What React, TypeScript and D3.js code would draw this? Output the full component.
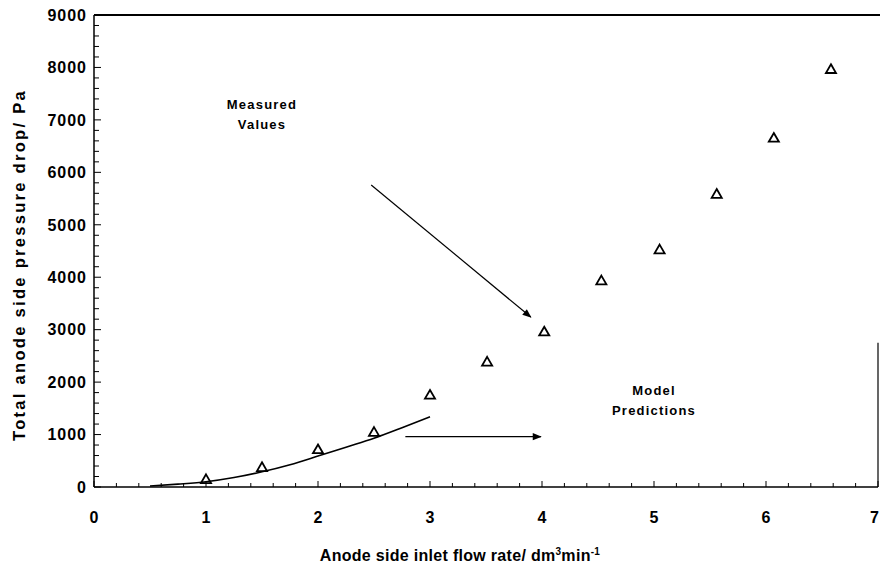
import * as d3 from "d3";

// measured pressure drop (triangles)
const measuredFlow = [1.0, 1.5, 2.0, 2.5, 3.0, 3.51, 4.02, 4.53, 5.05, 5.56, 6.07, 6.58];
const measuredDrop = [130, 360, 700, 1030, 1740, 2370, 2945, 3920, 4510, 5570, 6640, 7950];

// model prediction curve
const modelFlow = [0.5, 0.75, 1.0, 1.25, 1.5, 1.75, 2.0, 2.25, 2.5, 2.75, 3.0];
const modelDrop = [20, 55, 100, 180, 290, 425, 590, 760, 930, 1130, 1340];

const xTicks = [0, 1, 2, 3, 4, 5, 6, 7];
const yTicks = [0, 1000, 2000, 3000, 4000, 5000, 6000, 7000, 8000, 9000];

const width = 880;
const height = 567;
const margin = { top: 15, right: 2, bottom: 80, left: 94 };

const App = () => {
  const x = d3.scaleLinear().domain([0, 7]).range([margin.left, 878]);
  const y = d3.scaleLinear().domain([0, 9000]).range([height - margin.bottom, margin.top]);

  const xMinor = d3.range(0, 7.001, 0.2);
  const yMinor = d3.range(0, 9001, 200);

  const line = d3
    .line<number>()
    .x((d, i) => x(modelFlow[i]))
    .y((d) => y(d))
    .curve(d3.curveMonotoneX);

  const tri = d3.symbol().type(d3.symbolTriangle).size(44)();

  const font = "Arial, 'Liberation Sans', sans-serif";
  const x0 = x(0);
  const y0 = y(0);

  return (
    <svg
      width={width}
      height={height}
      style={{ position: "absolute", left: 0, top: 0, background: "#fff" }}
      fontFamily={font}
    >
      <defs>
        <marker id="arr" viewBox="0 0 10 10" refX="9" refY="5" markerWidth="11" markerHeight="9" orient="auto" markerUnits="userSpaceOnUse">
          <path d="M0,1 L10,5 L0,9 Z" fill="#000" />
        </marker>
      </defs>

      {/* frame */}
      <line x1={x0} x2={width} y1={y(9000)} y2={y(9000)} stroke="#000" strokeWidth={2} />
      <line x1={x0} x2={x0} y1={y(9000)} y2={y0} stroke="#000" strokeWidth={1.5} />
      <line x1={x0} x2={x(7)} y1={y0} y2={y0} stroke="#000" strokeWidth={1.5} />
      <line x1={x(7)} x2={x(7)} y1={y(2750)} y2={y0} stroke="#000" strokeWidth={1.2} />

      {/* y ticks */}
      {yMinor.map((v) => (
        <line key={"ym" + v} x1={x0} x2={x0 + (v % 1000 === 0 ? 7 : 5)} y1={y(v)} y2={y(v)} stroke="#000" strokeWidth={1} />
      ))}
      {yTicks.map((v) => (
        <text key={"yt" + v} x={x0 - 7} y={y(v)} dy="0.36em" textAnchor="end" fontSize={16} fontWeight="bold" letterSpacing={1}>
          {v}
        </text>
      ))}

      {/* x ticks */}
      {xMinor.map((v, i) => (
        <line key={"xm" + i} x1={x(v)} x2={x(v)} y1={y0} y2={y0 - (i % 5 === 0 ? 6 : 4)} stroke="#000" strokeWidth={1} />
      ))}
      {xTicks.map((v) => (
        <text
          key={"xt" + v}
          x={v === 7 ? width - 1 : x(v)}
          y={y0 + 36}
          textAnchor={v === 7 ? "end" : "middle"}
          fontSize={16}
          fontWeight="bold"
        >
          {v}
        </text>
      ))}

      {/* axis titles */}
      <text x={460} y={561} textAnchor="middle" fontSize={16} fontWeight="bold" letterSpacing={0.3}>
        Anode side inlet flow rate/ dm
        <tspan fontSize={10} dy={-6}>3</tspan>
        <tspan dy={6}>min</tspan>
        <tspan fontSize={10} dy={-6}>-1</tspan>
      </text>
      <text
        transform={`translate(25,265) rotate(-90)`}
        textAnchor="middle"
        fontSize={16.5}
        fontWeight="bold"
        letterSpacing={2.3}
      >
        Total anode side pressure drop/ Pa
      </text>

      {/* model curve */}
      <path d={line(modelDrop) ?? ""} fill="none" stroke="#000" strokeWidth={1.6} />

      {/* measured points */}
      {measuredFlow.map((f, i) => (
        <path
          key={"p" + i}
          d={tri ?? ""}
          transform={`translate(${x(f)},${y(measuredDrop[i])})`}
          fill="none"
          stroke="#000"
          strokeWidth={1.8}
        />
      ))}

      {/* annotations */}
      <text x={x(1.5)} y={y(7200)} textAnchor="middle" fontSize={13} fontWeight="bold" letterSpacing={1.2}>
        Measured
      </text>
      <text x={x(1.5)} y={y(6830)} textAnchor="middle" fontSize={13} fontWeight="bold" letterSpacing={1.2}>
        Values
      </text>
      <line x1={x(2.475)} y1={y(5760)} x2={x(3.9)} y2={y(3240)} stroke="#000" strokeWidth={1.2} markerEnd="url(#arr)" />

      <text x={x(5)} y={y(1760)} textAnchor="middle" fontSize={13} fontWeight="bold" letterSpacing={1.2}>
        Model
      </text>
      <text x={x(5)} y={y(1380)} textAnchor="middle" fontSize={13} fontWeight="bold" letterSpacing={1.2}>
        Predictions
      </text>
      <line x1={x(2.78)} y1={y(960)} x2={x(3.99)} y2={y(960)} stroke="#000" strokeWidth={1.4} markerEnd="url(#arr)" />
    </svg>
  );
};

export default App;
